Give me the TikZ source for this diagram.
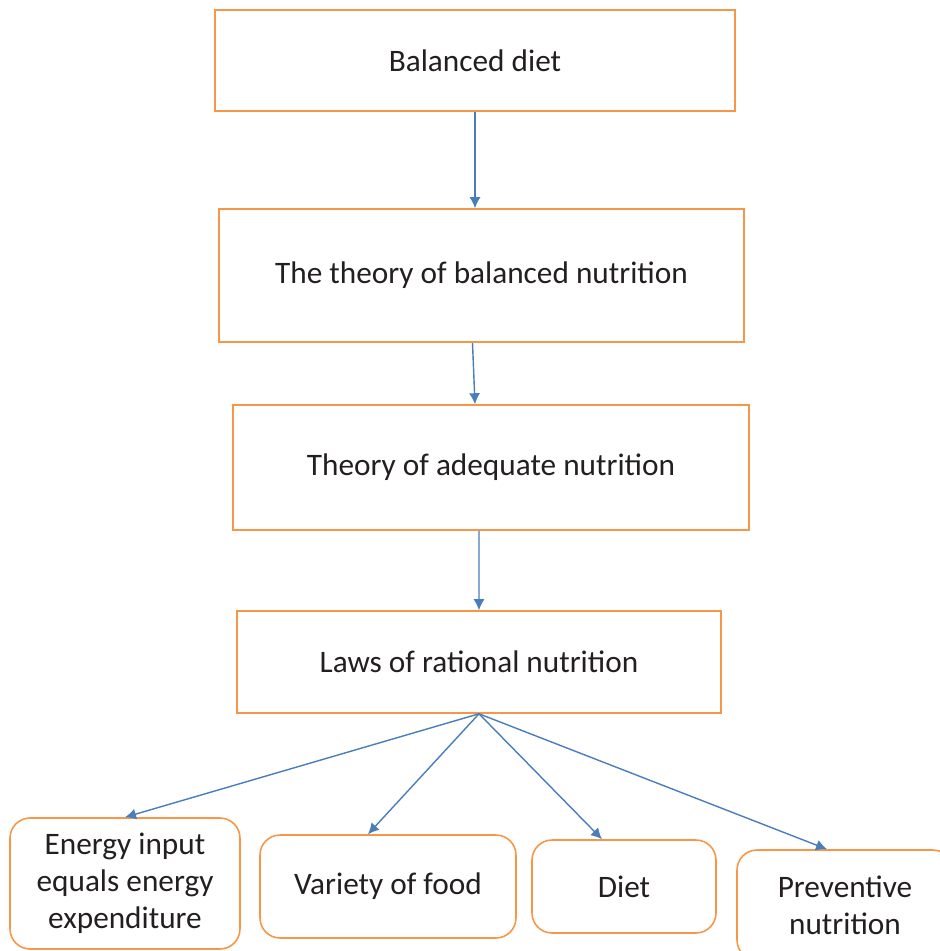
\documentclass[tikz,border=0pt]{standalone}
\usepackage{fontspec}
\setmainfont{Carlito}
\usetikzlibrary{arrows.meta, calc}
\definecolor{boxorange}{HTML}{F79646}
\definecolor{arrowblue}{HTML}{4A7EBB}
\definecolor{textgray}{HTML}{231F20}

\tikzset{
    stagebox/.style={draw=boxorange, line width=0.9pt, rectangle,
        align=center, text=textgray, inner sep=0pt},
    lawbox/.style={stagebox, rounded corners=0.4cm},
    flow/.style={draw=arrowblue, line width=0.8pt,
        -{Latex[length=2.2mm,width=2.2mm]}}
}

\begin{document}
\begin{tikzpicture}[x=0.02cm, y=-0.02cm]
    \fontsize{17.8}{21}\selectfont
    \useasboundingbox (0,0) rectangle (940,951);
    \clip (0,0) rectangle (940,951);

    % Stages
    \node[stagebox, minimum width=10.4cm, minimum height=2.02cm] (b1) at (475,60.5) {Balanced diet};
    \node[stagebox, minimum width=10.5cm, minimum height=2.66cm] (b2) at (481.5,275.5) {The theory of balanced nutrition};
    \node[stagebox, minimum width=10.32cm, minimum height=2.5cm] (b3) at (491,467.5) {Theory of adequate nutrition};
    \node[stagebox, minimum width=9.68cm, minimum height=2.04cm] (b4) at (479,662) {Laws of rational nutrition};

    % Laws
    \node[lawbox, minimum width=4.6cm, minimum height=2.62cm] (energy) at (125,883.5) {Energy input\\equals energy\\expenditure};
    \node[lawbox, minimum width=5.12cm, minimum height=2.06cm] (variety) at (388,886.5) {Variety of food};
    \node[lawbox, minimum width=3.68cm, minimum height=1.86cm] (diet) at (624,886.5) {Diet};
    \node[lawbox, minimum width=4.32cm, minimum height=2.2cm] (prevent) at (845,905) {Preventive\\nutrition};

    % Draw the arrows
    \draw[flow] (b1.south) -- (b1.south |- b2.north);
    \draw[flow] ([xshift=-0.18cm]b2.south) -- ([xshift=-0.32cm]b3.north);
    \draw[flow] ([xshift=-0.24cm]b3.south) -- (b4.north);

    \draw[flow] (b4.south) -- (energy.north);
    \draw[flow] (b4.south) -- ([xshift=-0.4cm]variety.north);
    \draw[flow] (b4.south) -- ([xshift=-0.44cm]diet.north);
    \draw[flow] (b4.south) -- ([xshift=-0.36cm]prevent.north);
\end{tikzpicture}
\end{document}
